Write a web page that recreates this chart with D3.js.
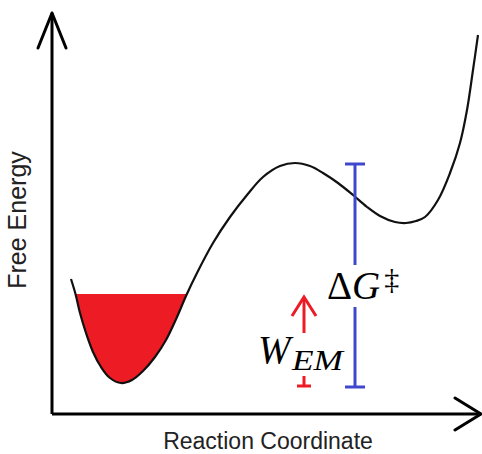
<!DOCTYPE html>
<html>
<head>
<meta charset="utf-8">
<script src="https://cdn.jsdelivr.net/npm/d3@7"></script>
<style>
  html, body { margin: 0; padding: 0; background: #fff; }
  svg { display: block; }
</style>
</head>
<body>
<svg id="chart" width="482" height="454"></svg>
<script>
// ---- data (reaction coordinate vs free energy, arbitrary units) ----
const reactionCoord = [19, 23.5, 28, 34, 41, 49, 58, 69, 80, 91, 103, 114, 125, 134, 145, 161, 178, 195, 211, 228, 243, 258, 271, 286, 301, 315, 328, 343, 354, 364, 373, 386, 398, 408, 415, 421, 426];
const freeEnergy    = [135, 120, 101, 81, 62, 47, 36, 31, 34, 43, 57, 74, 97, 118, 141, 171, 197, 219, 237, 248, 251, 248, 241, 231, 219, 207, 198, 192, 191, 193, 197, 214, 241, 271, 304, 344, 379];
const wellFillLevel = [120];
const wellFillMaxX = [161];
// Delta G bar: [x, bottom, top, gapLow, gapHigh]
const deltaGBar = [303, 27, 250, 107, 149];
// W_EM arrow: [x, base, tip, capLevel, capStemTop]
const wemArrow = [252, 81, 117, 28, 38];
const axisLabels = ["Reaction Coordinate", "Free Energy"];

const svg = d3.select("#chart");
const x = d3.scaleLinear().domain([0, 430]).range([52, 482]);
const y = d3.scaleLinear().domain([0, 400]).range([414, 14]);

const pts = reactionCoord.map((r, i) => [r, freeEnergy[i]]);

// red filled well (clipped below the fill level)
const defs = svg.append("defs");
defs.append("clipPath").attr("id", "wellClip")
  .append("rect")
  .attr("x", 0).attr("y", y(wellFillLevel[0]))
  .attr("width", 482).attr("height", 454 - y(wellFillLevel[0]));

const lineGen = d3.line().x(d => x(d[0])).y(d => y(d[1])).curve(d3.curveCatmullRom.alpha(0.5));

const wellPts = pts.filter(d => d[0] <= wellFillMaxX[0]);
svg.append("path")
  .attr("d", lineGen(wellPts) + "Z")
  .attr("fill", "#ed1c24")
  .attr("stroke", "none")
  .attr("clip-path", "url(#wellClip)");

// energy curve
svg.append("path")
  .attr("d", lineGen(pts))
  .attr("fill", "none")
  .attr("stroke", "#111")
  .attr("stroke-width", 2.2);

// axes
const ax = svg.append("g").attr("stroke", "#000").attr("stroke-width", 3).attr("fill", "none")
  .attr("stroke-linecap", "round").attr("stroke-linejoin", "round");
const x0 = x(0), y0 = y(0);
const xEnd = x.range()[1] - 1, yTop = y.range()[1] - 1;
ax.append("path").attr("d", `M${x0},${y0}H${xEnd}`).attr("stroke-linecap", "butt");
ax.append("path").attr("d", `M${x0},${y0}V${yTop}`).attr("stroke-linecap", "butt");
ax.append("path").attr("d", `M${xEnd - 26},${y0 - 16}L${xEnd},${y0}L${xEnd - 26},${y0 + 16}`);
ax.append("path").attr("d", `M${x0 - 14},${yTop + 35}L${x0},${yTop}L${x0 + 14},${yTop + 35}`);

// Delta G bar (blue)
const blue = "#3f48cc";
const bg = svg.append("g").attr("stroke", blue).attr("stroke-width", 3).attr("fill", "none");
const bx = x(deltaGBar[0]);
bg.append("line").attr("x1", bx).attr("x2", bx).attr("y1", y(deltaGBar[2])).attr("y2", y(deltaGBar[4]));
bg.append("line").attr("x1", bx).attr("x2", bx).attr("y1", y(deltaGBar[3])).attr("y2", y(deltaGBar[1]));
bg.append("line").attr("x1", bx - 10).attr("x2", bx + 10).attr("y1", y(deltaGBar[2])).attr("y2", y(deltaGBar[2]));
bg.append("line").attr("x1", bx - 10).attr("x2", bx + 10).attr("y1", y(deltaGBar[1])).attr("y2", y(deltaGBar[1]));

// W_EM arrow (red)
const red = "#ed1c24";
const rg = svg.append("g").attr("stroke", red).attr("stroke-width", 3).attr("fill", "none");
const rx = x(wemArrow[0]);
rg.append("line").attr("x1", rx).attr("x2", rx).attr("y1", y(wemArrow[1])).attr("y2", y(wemArrow[2]));
rg.append("path").attr("d", `M${rx - 12},${y(wemArrow[2]) + 19}L${rx},${y(wemArrow[2])}L${rx + 12},${y(wemArrow[2]) + 19}`);
rg.append("line").attr("x1", rx).attr("x2", rx).attr("y1", y(wemArrow[4])).attr("y2", y(wemArrow[3]));
rg.append("line").attr("x1", rx - 7).attr("x2", rx + 7).attr("y1", y(wemArrow[3])).attr("y2", y(wemArrow[3]));

// math labels
const serif = "'Liberation Serif', 'DejaVu Serif', serif";
const dg = svg.append("text").attr("x", 327).attr("y", 299).attr("font-family", serif).attr("fill", "#000");
dg.append("tspan").attr("font-size", 39).text("Δ");
dg.append("tspan").attr("font-size", 39).attr("font-style", "italic").text("G");
dg.append("tspan").attr("font-size", 30).attr("dx", 4).attr("dy", -10).text("‡");

const w = svg.append("text").attr("x", 258).attr("y", 363).attr("font-family", serif).attr("fill", "#000").attr("font-style", "italic");
w.append("tspan").attr("font-size", 39).text("W");
svg.append("text").attr("x", 292).attr("y", 370).attr("font-family", serif).attr("font-style", "italic")
  .attr("font-size", 29).attr("textLength", 51).attr("lengthAdjust", "spacingAndGlyphs").text("EM");

// axis labels
const sans = "'Liberation Sans', Arial, sans-serif";
svg.append("text").attr("x", 268).attr("y", 449).attr("text-anchor", "middle")
  .attr("font-family", sans).attr("font-size", 23).attr("fill", "#222").text(axisLabels[0]);
svg.append("text").attr("transform", "translate(26,220) rotate(-90)").attr("text-anchor", "middle")
  .attr("font-family", sans).attr("font-size", 25).attr("fill", "#222").text(axisLabels[1]);
</script>
</body>
</html>
